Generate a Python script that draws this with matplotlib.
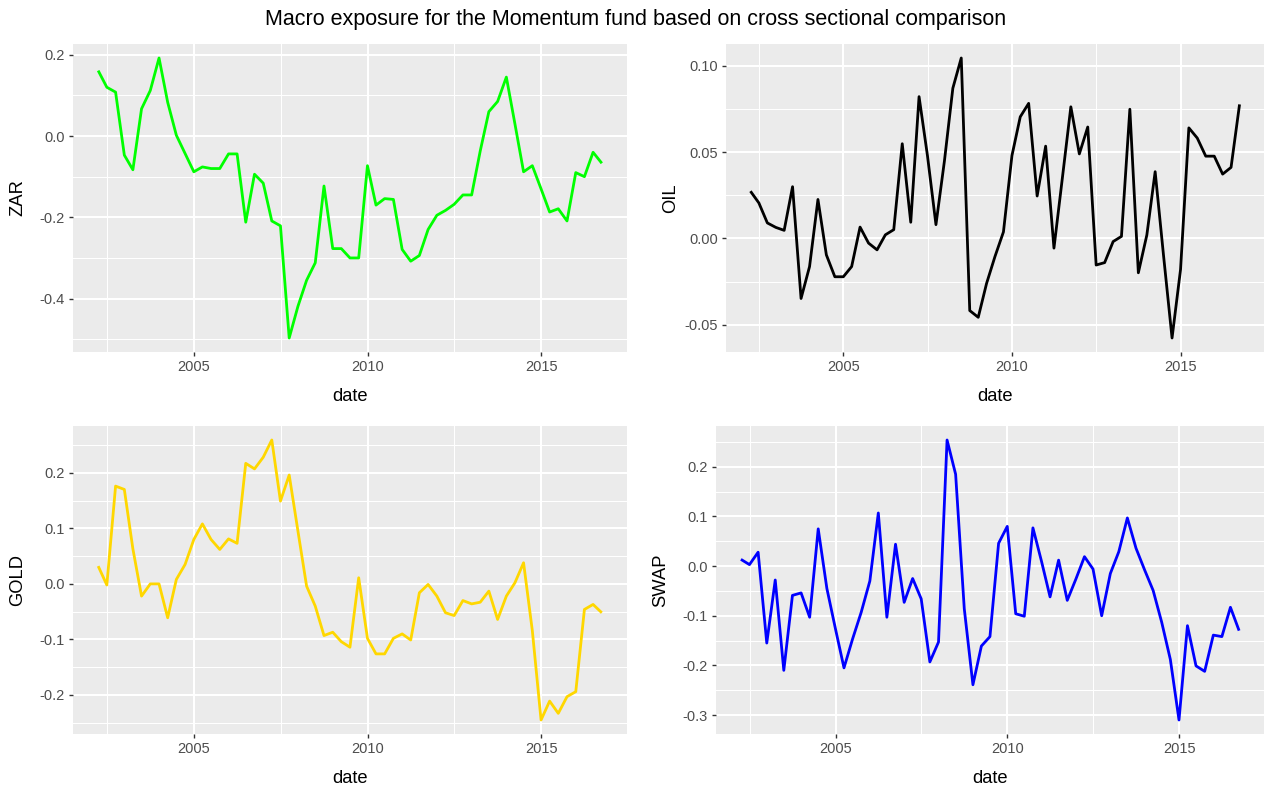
import matplotlib
matplotlib.use("Agg")
import matplotlib.pyplot as plt
import pandas as pd
import datetime as dt

plt.rcParams['font.family'] = ['Liberation Sans', 'DejaVu Sans']
plt.rcParams['axes.unicode_minus'] = False

# ---- data (quarterly, 2002Q1 .. 2016Q3) ----
dates = pd.period_range('2002Q1', '2016Q3', freq='Q').to_timestamp(how='end').normalize()

zar = [0.161, 0.120, 0.108, -0.047, -0.083, 0.067, 0.112, 0.192, 0.083, 0.002,
       -0.043, -0.088, -0.076, -0.080, -0.080, -0.044, -0.044, -0.212, -0.094, -0.116,
       -0.209, -0.221, -0.497, -0.419, -0.355, -0.312, -0.123, -0.277, -0.277, -0.300,
       -0.300, -0.073, -0.170, -0.154, -0.156, -0.279, -0.308, -0.294, -0.230, -0.195,
       -0.183, -0.168, -0.145, -0.145, -0.037, 0.060, 0.085, 0.145, 0.030, -0.088,
       -0.073, -0.130, -0.187, -0.179, -0.209, -0.090, -0.100, -0.040, -0.067]

oil = [0.0274, 0.0206, 0.0090, 0.0064, 0.0047, 0.0300, -0.0348, -0.0163, 0.0226, -0.0095,
       -0.0222, -0.0222, -0.0163, 0.0066, -0.0027, -0.0066, 0.0021, 0.0051, 0.0549, 0.0094,
       0.0822, 0.0480, 0.0080, 0.0450, 0.0871, 0.1046, -0.0418, -0.0457, -0.0261, -0.0105,
       0.0038, 0.0480, 0.0705, 0.0783, 0.0246, 0.0535, -0.0056, 0.0350, 0.0763, 0.0490,
       0.0646, -0.0154, -0.0140, -0.0018, 0.0012, 0.0749, -0.0199, 0.0020, 0.0387, -0.0100,
       -0.0577, -0.0180, 0.0641, 0.0582, 0.0477, 0.0477, 0.0373, 0.0412, 0.0777]

gold = [0.032, -0.002, 0.176, 0.170, 0.063, -0.022, 0.000, 0.000, -0.061, 0.008,
        0.035, 0.080, 0.108, 0.080, 0.062, 0.081, 0.073, 0.217, 0.207, 0.228,
        0.259, 0.149, 0.196, 0.095, -0.004, -0.040, -0.093, -0.087, -0.104, -0.114,
        0.011, -0.098, -0.126, -0.126, -0.098, -0.090, -0.101, -0.016, -0.001, -0.022,
        -0.052, -0.057, -0.030, -0.036, -0.033, -0.013, -0.064, -0.022, 0.002, 0.038,
        -0.084, -0.245, -0.211, -0.233, -0.203, -0.194, -0.046, -0.037, -0.052]

swap = [0.0136, 0.003, 0.028, -0.155, -0.028, -0.210, -0.059, -0.054, -0.103, 0.075,
        -0.045, -0.127, -0.205, -0.147, -0.093, -0.030, 0.107, -0.103, 0.044, -0.073,
        -0.025, -0.066, -0.193, -0.153, 0.254, 0.185, -0.086, -0.239, -0.161, -0.142,
        0.046, 0.080, -0.096, -0.101, 0.077, 0.009, -0.062, 0.012, -0.069, -0.026,
        0.019, -0.006, -0.100, -0.015, 0.029, 0.097, 0.036, -0.008, -0.049, -0.113,
        -0.188, -0.310, -0.120, -0.201, -0.212, -0.139, -0.142, -0.083, -0.130]

x_major_years = [2005, 2010, 2015]
x_minor_years = [2002.5, 2007.5, 2012.5]
x_tick_labels = ['2005', '2010', '2015']

zar_ticks = [-0.4, -0.2, 0.0, 0.2]
zar_labels = ['-0.4', '-0.2', '0.0', '0.2']
zar_minor = [-0.5, -0.3, -0.1, 0.1]

oil_ticks = [-0.05, 0.0, 0.05, 0.10]
oil_labels = ['-0.05', '0.00', '0.05', '0.10']
oil_minor = [-0.025, 0.025, 0.075]

gold_ticks = [-0.2, -0.1, 0.0, 0.1, 0.2]
gold_labels = ['-0.2', '-0.1', '0.0', '0.1', '0.2']
gold_minor = [-0.25, -0.15, -0.05, 0.05, 0.15, 0.25]

swap_ticks = [-0.3, -0.2, -0.1, 0.0, 0.1, 0.2]
swap_labels = ['-0.3', '-0.2', '-0.1', '0.0', '0.1', '0.2']
swap_minor = [-0.25, -0.15, -0.05, 0.05, 0.15, 0.25]

title = 'Macro exposure for the Momentum fund based on cross sectional comparison'

W, H = 1269, 787
fig = plt.figure(figsize=(W / 100, H / 100), dpi=100)
fig.patch.set_facecolor('white')


def year_to_date(y):
    yr = int(y)
    frac = y - yr
    base = dt.datetime(yr, 1, 1)
    return base + dt.timedelta(days=frac * 365.25)


def panel(px_left, px_top, px_right, px_bottom, values, color, ylabel,
          yticks, ylabels, yminor, ylabel_px):
    ax = fig.add_axes([px_left / W, 1 - px_bottom / H,
                       (px_right - px_left) / W, (px_bottom - px_top) / H])
    ax.set_facecolor('#EBEBEB')
    for s in ax.spines.values():
        s.set_visible(False)
    ax.plot(dates, values, color=color, lw=2.0, solid_joinstyle='round',
            solid_capstyle='butt', zorder=3)
    ax.margins(x=0.05, y=0.05)
    ax.set_xticks([year_to_date(v) for v in x_major_years])
    ax.set_xticklabels(x_tick_labels)
    ax.set_xticks([year_to_date(v) for v in x_minor_years], minor=True)
    ax.set_yticks(yticks)
    ax.set_yticklabels(ylabels)
    ax.set_yticks(yminor, minor=True)
    ax.grid(which='major', color='white', lw=1.5, zorder=0)
    ax.grid(which='minor', color='white', lw=0.75, zorder=0)
    ax.set_axisbelow(True)
    ax.tick_params(which='major', length=3.2, width=1.0, color='#333333',
                   labelsize=10.5, labelcolor='#4D4D4D', pad=2.5)
    ax.tick_params(which='minor', length=0)
    ax.set_xlabel('date', fontsize=13.2, color='black')
    ax.xaxis.set_label_coords(0.5, -(36) / (px_bottom - px_top))
    ax.set_ylabel(ylabel, fontsize=13.2, color='black')
    ax.yaxis.set_label_coords((ylabel_px - px_left) / (px_right - px_left), 0.5)
    return ax


panel(73, 44, 627, 352, zar, '#00FF00', 'ZAR', zar_ticks, zar_labels, zar_minor, 26)
panel(726, 44, 1264, 352, oil, 'black', 'OIL', oil_ticks, oil_labels, oil_minor, 679)
panel(73, 426, 627, 734, gold, '#FFD700', 'GOLD', gold_ticks, gold_labels, gold_minor, 26)
panel(716, 426, 1264, 734, swap, '#0000FF', 'SWAP', swap_ticks, swap_labels, swap_minor, 669)

fig.text(636 / W, 1 - 20 / H, title, ha='center', va='center', fontsize=15.5, color='black')

fig.savefig('out.png', dpi=100, facecolor='white')
